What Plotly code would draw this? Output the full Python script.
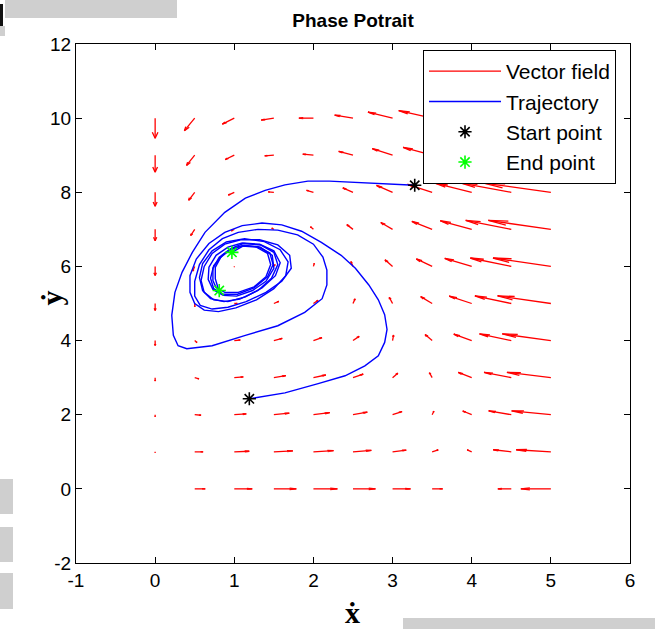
import plotly.graph_objects as go

# ---------------- data ----------------
x_grid = [0.0, 0.5, 1.0, 1.5, 2.0, 2.5, 3.0, 3.5, 4.0, 4.5, 5.0]
y_grid = [0, 1, 2, 3, 4, 5, 6, 7, 8, 9, 10]

# drawn arrow components (data units); one inner list per x_grid column, values for y = 0..10
U_cols = [
    [0, 0, 0, 0, 0, 0, 0, 0, 0, 0, 0],
    [0.133, 0.106, 0.080, 0.054, 0.028, 0.002, -0.025, -0.051, -0.077, -0.103, -0.130],
    [0.227, 0.189, 0.152, 0.114, 0.076, 0.038, 0.000, -0.038, -0.076, -0.114, -0.152],
    [0.284, 0.240, 0.195, 0.151, 0.106, 0.062, 0.017, -0.027, -0.072, -0.116, -0.161],
    [0.303, 0.254, 0.206, 0.157, 0.108, 0.059, 0.011, -0.038, -0.087, -0.135, -0.184],
    [0.284, 0.232, 0.181, 0.129, 0.078, 0.026, -0.026, -0.078, -0.129, -0.181, -0.232],
    [0.227, 0.173, 0.120, 0.066, 0.012, -0.042, -0.096, -0.149, -0.203, -0.257, -0.311],
    [0.133, 0.077, 0.022, -0.034, -0.089, -0.145, -0.200, -0.256, -0.311, -0.367, -0.422],
    [0.000, -0.057, -0.114, -0.170, -0.227, -0.284, -0.341, -0.398, -0.455, -0.511, -0.568],
    [-0.170, -0.228, -0.286, -0.344, -0.402, -0.460, -0.518, -0.576, -0.634, -0.692, -0.749],
    [-0.379, -0.438, -0.496, -0.555, -0.614, -0.673, -0.731, -0.790, -0.849, -0.908, -0.967],
]
V_cols = [
    [0, -0.024, -0.054, -0.091, -0.135, -0.186, -0.243, -0.307, -0.378, -0.456, -0.541],
    [0, -0.003, -0.014, -0.030, -0.054, -0.084, -0.122, -0.166, -0.216, -0.274, -0.338],
    [0, 0.014, 0.022, 0.022, 0.016, 0.003, -0.016, -0.043, -0.076, -0.116, -0.162],
    [0, 0.025, 0.043, 0.055, 0.059, 0.057, 0.049, 0.033, 0.011, -0.018, -0.054],
    [0, 0.030, 0.054, 0.071, 0.081, 0.084, 0.081, 0.071, 0.054, 0.030, 0.000],
    [0, 0.039, 0.070, 0.095, 0.114, 0.125, 0.130, 0.128, 0.119, 0.103, 0.081],
    [0, 0.047, 0.086, 0.120, 0.146, 0.166, 0.178, 0.184, 0.184, 0.176, 0.162],
    [0, 0.051, 0.095, 0.132, 0.162, 0.186, 0.203, 0.213, 0.216, 0.213, 0.203],
    [0, 0.053, 0.100, 0.140, 0.173, 0.199, 0.219, 0.232, 0.238, 0.237, 0.230],
    [0, 0.055, 0.103, 0.144, 0.178, 0.206, 0.227, 0.241, 0.249, 0.249, 0.243],
    [0, 0.055, 0.103, 0.144, 0.178, 0.206, 0.227, 0.241, 0.249, 0.249, 0.243],
]

traj1_x = [3.28, 3.0, 2.6, 2.2, 1.93, 1.64, 1.39, 1.14, 0.88, 0.63, 0.47, 0.34, 0.25, 0.21, 0.23, 0.29, 0.4,
           0.72, 1.14, 1.55, 1.89, 2.11, 2.17, 2.17, 2.12, 2.0, 1.8, 1.55, 1.3, 1.05, 0.85, 0.68, 0.56, 0.5,
           0.5, 0.57, 0.72, 0.92, 1.15, 1.4, 1.6, 1.72, 1.7, 1.55, 1.32, 1.08, 0.88, 0.72, 0.62, 0.58, 0.62,
           0.74, 0.92, 1.14, 1.35, 1.52, 1.58, 1.5, 1.32, 1.1, 0.92, 0.77, 0.68, 0.67, 0.73, 0.86, 1.03, 1.23,
           1.4, 1.5, 1.48, 1.33, 1.12, 0.95, 0.81, 0.73, 0.73, 0.77, 0.88, 1.05, 1.25, 1.4, 1.46, 1.42,
           1.28, 1.1, 0.95, 0.83, 0.76, 0.76, 0.79, 0.81]
traj1_y = [8.19, 8.22, 8.27, 8.3, 8.3, 8.2, 8.05, 7.84, 7.46, 6.92, 6.38, 5.84, 5.3, 4.68, 4.14, 3.86, 3.78,
           3.86, 4.14, 4.4, 4.76, 5.13, 5.5, 5.9, 6.25, 6.6, 6.85, 6.98, 7.0, 6.92, 6.75, 6.45, 6.05, 5.6,
           5.2, 4.95, 4.85, 4.9, 5.05, 5.3, 5.6, 5.95, 6.3, 6.58, 6.72, 6.72, 6.6, 6.35, 6.0, 5.62, 5.3,
           5.1, 5.05, 5.18, 5.42, 5.75, 6.1, 6.42, 6.6, 6.63, 6.52, 6.3, 5.98, 5.65, 5.38, 5.22, 5.2, 5.35,
           5.6, 5.95, 6.3, 6.52, 6.57, 6.47, 6.25, 5.95, 5.62, 5.43, 5.3, 5.3, 5.45, 5.72, 6.05, 6.35,
           6.52, 6.55, 6.45, 6.25, 5.97, 5.67, 5.45, 5.35]

traj2_x = [1.19, 1.4, 1.64, 2.06, 2.4, 2.65, 2.82, 2.9, 2.93, 2.9, 2.82, 2.7, 2.53, 2.35, 2.1, 1.85, 1.6,
           1.35, 1.1, 0.88, 0.68, 0.52, 0.44, 0.44, 0.5, 0.62, 0.8, 1.02, 1.28, 1.5, 1.65, 1.68, 1.58, 1.38,
           1.13, 0.9, 0.72, 0.6, 0.56, 0.6, 0.7, 0.87, 1.07, 1.3, 1.47, 1.55, 1.5, 1.33, 1.12, 1.0, 0.86,
           0.74, 0.7, 0.74, 0.86, 1.04, 1.25, 1.42, 1.49, 1.45, 1.3, 1.12, 0.97]
traj2_y = [2.43, 2.5, 2.59, 2.84, 3.05, 3.32, 3.59, 3.95, 4.3, 4.7, 5.1, 5.5, 5.95, 6.3, 6.65, 6.95, 7.12,
           7.17, 7.1, 6.92, 6.62, 6.2, 5.75, 5.3, 5.0, 4.82, 4.78, 4.88, 5.1, 5.4, 5.75, 6.12, 6.45, 6.67,
           6.75, 6.66, 6.42, 6.08, 5.7, 5.35, 5.13, 5.05, 5.12, 5.35, 5.68, 6.05, 6.38, 6.58, 6.62, 6.52, 6.32,
           6.02, 5.68, 5.4, 5.25, 5.25, 5.42, 5.72, 6.05, 6.36, 6.53, 6.56, 6.38]

start_x = [3.28, 1.19]
start_y = [8.19, 2.43]
end_x = [0.81, 0.97]
end_y = [5.35, 6.38]

x_ticks = [-1, 0, 1, 2, 3, 4, 5, 6]
x_tick_text = ["-1", "0", "1", "2", "3", "4", "5", "6"]
y_ticks = [-2, 0, 2, 4, 6, 8, 10, 12]
y_tick_text = ["-2", "0", "2", "4", "6", "8", "10", "12"]

# ---------------- build quiver (MATLAB-style heads) ----------------
ALPHA, BETA = 0.3, 0.22
qx, qy = [], []
for i, x0 in enumerate(x_grid):
    for j, y0 in enumerate(y_grid):
        u = U_cols[i][j]
        v = V_cols[i][j]
        tx, ty = x0 + u, y0 + v
        qx += [x0, tx, None,
               tx - ALPHA * (u + BETA * v), tx, tx - ALPHA * (u - BETA * v), None]
        qy += [y0, ty, None,
               ty - ALPHA * (v - BETA * u), ty, ty - ALPHA * (v + BETA * u), None]

RED = "#FF0000"
BLUE = "#0000FF"
GREEN = "#00FF00"
FONT = "Liberation Sans, Arial, sans-serif"

fig = go.Figure()
fig.add_trace(go.Scatter(x=qx, y=qy, mode="lines", line=dict(color=RED, width=1.3),
                         name="Vector field", legendgroup="a", hoverinfo="skip"))
fig.add_trace(go.Scatter(x=traj1_x, y=traj1_y, mode="lines", line=dict(color=BLUE, width=1.4),
                         name="Trajectory", legendgroup="b"))
fig.add_trace(go.Scatter(x=traj2_x, y=traj2_y, mode="lines", line=dict(color=BLUE, width=1.4),
                         name="Trajectory", legendgroup="b", showlegend=False))
fig.add_trace(go.Scatter(x=start_x, y=start_y, mode="markers",
                         marker=dict(symbol="asterisk-open", size=11, color="black",
                                     line=dict(color="black", width=1.6)),
                         name="Start point", legendgroup="c"))
fig.add_trace(go.Scatter(x=end_x, y=end_y, mode="markers",
                         marker=dict(symbol="asterisk-open", size=11, color=GREEN,
                                     line=dict(color=GREEN, width=1.6)),
                         name="End point", legendgroup="d"))

axis_common = dict(showline=True, linecolor="black", linewidth=1, mirror="ticks",
                   ticks="inside", ticklen=6, tickcolor="black", showgrid=False,
                   zeroline=False, tickfont=dict(family=FONT, size=19, color="black"))

L, R, T, B = 76, 29, 44, 66
W, H = 659, 629
pw, ph = W - L - R, H - T - B


def px2paper(px, py):
    return (px - L) / pw, (H - B - py) / ph


shapes = []
for (x0, y0, x1, y1, col) in [(5, 0, 177, 18, "#CFCFCF"), (0, 479, 13, 514, "#CFCFCF"),
                              (0, 527, 13, 562, "#CFCFCF"), (0, 573, 13, 609, "#CFCFCF"),
                              (403, 618, 655, 629, "#CFCFCF"), (0, 4, 3, 26, "#111111"),
                              (0, 26, 5, 36, "#CFCFCF")]:
    a0, b1 = px2paper(x0, y0)
    a1, b0 = px2paper(x1, y1)
    shapes.append(dict(type="rect", xref="paper", yref="paper", x0=a0, x1=a1, y0=b0, y1=b1,
                       fillcolor=col, line=dict(width=0), layer="above"))

lx, ly = px2paper(423, 50)
xl_x, xl_y = px2paper(352, 612)
yl_x, yl_y = px2paper(32, 298)

fig.update_layout(
    width=W, height=H,
    margin=dict(l=L, r=R, t=T, b=B),
    paper_bgcolor="white", plot_bgcolor="white",
    title=dict(text="<b>Phase Potrait</b>", x=0.5, xref="paper", y=1 - 20 / H, yanchor="middle",
               font=dict(family=FONT, size=19, color="black")),
    xaxis=dict(range=[-1, 6], tickvals=x_ticks, ticktext=x_tick_text, **axis_common),
    yaxis=dict(range=[-2, 12], tickvals=y_ticks, ticktext=y_tick_text, **axis_common),
    legend=dict(x=lx, y=ly, xanchor="left", yanchor="top", bgcolor="white",
                bordercolor="black", borderwidth=1, font=dict(family=FONT, size=21, color="black"),
                tracegroupgap=0, itemwidth=72),
    shapes=shapes,
    annotations=[
        dict(text="<b>ẋ</b>", x=xl_x, y=xl_y, xref="paper", yref="paper", showarrow=False,
             yanchor="middle",
             font=dict(family="Liberation Serif, Times New Roman, serif", size=30, color="black")),
        dict(text="<b>ẏ</b>", x=yl_x, y=yl_y, xref="paper", yref="paper", showarrow=False,
             textangle=-90,
             font=dict(family="Liberation Serif, Times New Roman, serif", size=30, color="black")),
    ],
    showlegend=True,
)

fig.write_html("out.html", post_script="document.body.style.margin='0';",
               config={"displayModeBar": False})
